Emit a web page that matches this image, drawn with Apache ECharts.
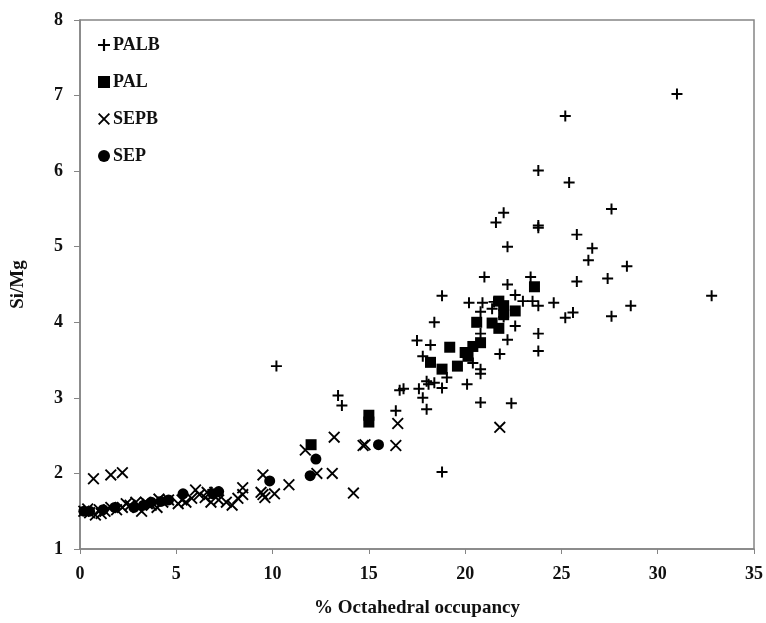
<!DOCTYPE html>
<html>
<head>
<meta charset="utf-8">
<script src="https://cdn.jsdelivr.net/npm/echarts@6/dist/echarts.min.js"></script>
<style>
  html, body { margin: 0; padding: 0; background: #fff; }
  #chart { width: 766px; height: 623px; }
</style>
</head>
<body>
<div id="chart"></div>
<script>
// PALB (+)
var palb = [
  [10.2, 3.42], [13.4, 3.03], [13.6, 2.90], [16.4, 2.83], [16.6, 3.10], [16.8, 3.12],
  [17.5, 3.76], [17.6, 3.12], [17.8, 3.0], [17.8, 3.55], [18.0, 2.85], [18.0, 3.22],
  [18.1, 3.18], [18.2, 3.70], [18.4, 3.20], [18.4, 4.0], [18.8, 3.13], [18.8, 4.35],
  [18.8, 2.02], [19.05, 3.27], [20.1, 3.18], [20.2, 4.26], [20.4, 3.46], [20.8, 3.38],
  [20.8, 3.32], [20.8, 2.94], [20.8, 3.85], [20.8, 4.14], [20.9, 4.26], [21.0, 4.60],
  [21.4, 4.18], [21.6, 5.32], [22.0, 5.45], [22.2, 5.0], [22.2, 4.50], [22.2, 3.77],
  [21.8, 3.58], [22.4, 2.93], [22.6, 3.95], [22.6, 4.36], [23.0, 4.28], [23.4, 4.60],
  [23.5, 4.28], [23.8, 4.22], [23.8, 3.85], [23.8, 3.62], [23.8, 5.25], [23.8, 5.28],
  [23.8, 6.01], [24.6, 4.26], [25.2, 6.73], [25.2, 4.06], [25.4, 5.85], [25.6, 4.13],
  [25.8, 5.16], [25.8, 4.54], [26.4, 4.82], [26.6, 4.98], [27.4, 4.58], [27.6, 5.50],
  [27.6, 4.08], [28.4, 4.74], [28.6, 4.22], [31.0, 7.02], [32.8, 4.35], [21.5, 4.27],
  [22.0, 4.07]
]
// PAL (square)
var pal = [
  [12.0, 2.38], [15.0, 2.77], [15.0, 2.68], [18.2, 3.47], [18.8, 3.38], [19.2, 3.67],
  [19.6, 3.42], [20.0, 3.60], [20.15, 3.55], [20.4, 3.68], [20.6, 4.0], [20.8, 3.73],
  [21.4, 3.99], [21.75, 4.28], [21.75, 3.92], [22.0, 4.22], [22.0, 4.10], [22.6, 4.15],
  [23.6, 4.47]
]
// SEPB (x)
var sepb = [
  [0.2, 1.5], [0.5, 1.48], [0.8, 1.45], [1.0, 1.52], [1.3, 1.5], [1.6, 1.55], [1.9, 1.52],
  [2.2, 1.55], [2.6, 1.58], [3.0, 1.55], [3.2, 1.5], [3.4, 1.62], [3.5, 1.6], [3.7, 1.58],
  [4.0, 1.55], [4.3, 1.62], [4.6, 1.65], [5.1, 1.6], [5.5, 1.62], [5.8, 1.67], [6.0, 1.78],
  [6.2, 1.72], [6.5, 1.68], [6.8, 1.62], [6.9, 1.72], [7.0, 1.75], [7.2, 1.65], [7.6, 1.62],
  [7.9, 1.58], [8.2, 1.67], [8.45, 1.81], [8.45, 1.72], [9.4, 1.75], [9.5, 1.98],
  [9.5, 1.72], [9.6, 1.68], [10.1, 1.73], [10.85, 1.85], [0.7, 1.93], [1.6, 1.98],
  [2.2, 2.01], [11.7, 2.31], [12.3, 2.0], [13.1, 2.0], [13.2, 2.48], [14.2, 1.74],
  [14.7, 2.37], [14.8, 2.38], [16.4, 2.37], [16.5, 2.66], [21.8, 2.61],
  [0.4, 1.53], [1.1, 1.47], [2.4, 1.6], [2.9, 1.62], [4.1, 1.66], [5.3, 1.65], [6.6, 1.75]
]
// SEP (circle)
var sep = [
  [0.2, 1.5], [0.5, 1.5], [1.2, 1.52], [1.8, 1.55], [2.8, 1.55], [3.3, 1.58], [3.7, 1.62],
  [4.2, 1.63], [4.6, 1.65], [5.35, 1.73], [6.9, 1.73], [7.2, 1.76], [9.85, 1.9],
  [11.95, 1.97], [12.25, 2.19], [15.5, 2.38]
]

var plusPath = 'path://M0,4.1H10V5.9H0ZM4.1,0H5.9V10H4.1Z'
var crossPath = 'path://M0,1.1L1.1,0L10,8.9L8.9,10ZM8.9,0L10,1.1L1.1,10L0,8.9Z'
var font = '"Liberation Serif", "Times New Roman", serif'
var axisGray = '#858585'

var chart = echarts.init(document.getElementById('chart'))
var option = {
  animation: false,
  grid: {
    left: 80, right: 12, top: 20, bottom: 68,
    show: true, borderColor: axisGray, borderWidth: 1.5
  },
  legend: {
    orient: 'vertical',
    left: 93,
    top: 31,
    itemGap: 19,
    itemWidth: 12,
    itemHeight: 12,
    textStyle: { fontFamily: font, fontWeight: 'bold', fontSize: 18, color: '#111', padding: [0, 0, 0, -2] },
    data: ['PALB', 'PAL', 'SEPB', 'SEP']
  },
  xAxis: {
    type: 'value',
    min: 0, max: 35, interval: 5,
    name: '% Octahedral occupancy',
    nameLocation: 'middle',
    nameGap: 50,
    nameTextStyle: { fontFamily: font, fontWeight: 'bold', fontSize: 19, color: '#111' },
    axisLine: { show: true, lineStyle: { color: axisGray, width: 1.5 } },
    axisTick: { show: true, inside: false, length: 5, lineStyle: { color: axisGray } },
    splitLine: { show: false },
    axisLabel: { fontFamily: font, fontWeight: 'bold', fontSize: 18, color: '#111', margin: 16 }
  },
  yAxis: {
    type: 'value',
    min: 1, max: 8, interval: 1,
    name: 'Si/Mg',
    nameLocation: 'middle',
    nameGap: 52,
    nameTextStyle: { fontFamily: font, fontWeight: 'bold', fontSize: 19, color: '#111' },
    axisLine: { show: true, lineStyle: { color: axisGray, width: 1.5 } },
    axisTick: { show: true, inside: false, length: 6, lineStyle: { color: axisGray } },
    splitLine: { show: false },
    axisLabel: { fontFamily: font, fontWeight: 'bold', fontSize: 18, color: '#111', margin: 17 }
  },
  series: [
    {
      name: 'PALB', type: 'scatter', data: palb,
      symbol: plusPath, symbolSize: 11,
      itemStyle: { color: '#000', opacity: 1 }
    },
    {
      name: 'PAL', type: 'scatter', data: pal,
      symbol: 'rect', symbolSize: 11,
      itemStyle: { color: '#000', opacity: 1 }
    },
    {
      name: 'SEPB', type: 'scatter', data: sepb,
      symbol: crossPath, symbolSize: 12,
      itemStyle: { color: '#000', opacity: 1 }
    },
    {
      name: 'SEP', type: 'scatter', data: sep,
      symbol: 'circle', symbolSize: 11,
      itemStyle: { color: '#000', opacity: 1 }
    }
  ]
}
chart.setOption(option)
</script>
</body>
</html>
